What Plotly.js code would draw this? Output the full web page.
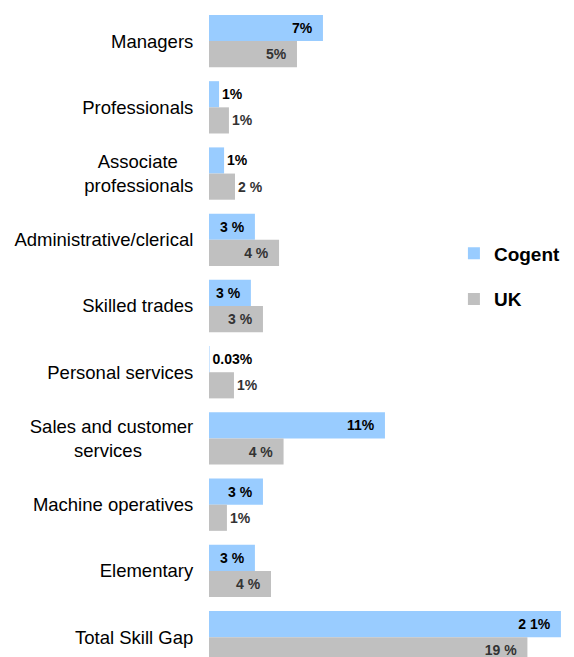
<!DOCTYPE html>
<html>
<head>
<meta charset="utf-8">
<script src="https://cdn.plot.ly/plotly-3.0.1.min.js"></script>
<style>html,body{margin:0;padding:0;background:#fff;}#chart{width:574px;height:657px;}</style>
</head>
<body>
<div id="chart"></div>
<script>
var categories = ["Managers","Professionals","Associate professionals","Administrative/clerical","Skilled trades","Personal services","Sales and customer services","Machine operatives","Elementary","Total Skill Gap"];
var tickLabels = ["Managers","Professionals","Associate\u00A0\u00A0\u00A0<br>professionals","Administrative/clerical","Skilled trades","Personal services","Sales and customer<br>services\u00A0\u00A0\u00A0\u00A0\u00A0\u00A0\u00A0\u00A0\u00A0\u00A0","Machine operatives","Elementary","Total Skill Gap"];
var cogentValues = [6.8, 0.6, 0.9, 2.74, 2.5, 0.03, 10.5, 3.22, 2.74, 21.0];
var ukValues = [5.25, 1.19, 1.55, 4.18, 3.22, 1.49, 4.45, 1.07, 3.7, 19.0];
var cogentLabels = ["7%","1%","1%","3 %","3 %","0.03%","11%","3 %","3 %","2 1%"];
var ukLabels = ["5%","1%","2 %","4 %","3 %","1%","4 %","1%","4 %","19 %"];
var cogentPos = ["inside","outside","outside","inside","inside","outside","inside","inside","inside","inside"];
var ukPos = ["inside","outside","outside","inside","inside","outside","inside","outside","inside","inside"];

var labelFont = "Arial, 'Liberation Sans', sans-serif";
var pad = "\u00A0\u00A0";
function padded(labels, pos){ return labels.map(function(l,i){ return pos[i]==="inside" ? l+pad : l; }); }

var traces = [
  {type:"bar", orientation:"h", name:"Cogent", y:categories, x:cogentValues,
   text:padded(cogentLabels,cogentPos), textposition:cogentPos, insidetextanchor:"end", textangle:0,
   constraintext:"none", cliponaxis:false,
   textfont:{family:labelFont,size:14,color:"#000",weight:"bold"},
   insidetextfont:{family:labelFont,size:14,color:"#000",weight:"bold"},
   outsidetextfont:{family:labelFont,size:14,color:"#000",weight:"bold"},
   marker:{color:"#99CCFF"}, hoverinfo:"skip", legendgroup:"a"},
  {type:"bar", orientation:"h", name:"UK", y:categories, x:ukValues,
   text:padded(ukLabels,ukPos), textposition:ukPos, insidetextanchor:"end", textangle:0,
   constraintext:"none", cliponaxis:false,
   textfont:{family:labelFont,size:14,color:"#333",weight:"bold"},
   insidetextfont:{family:labelFont,size:14,color:"#333",weight:"bold"},
   outsidetextfont:{family:labelFont,size:14,color:"#333",weight:"bold"},
   marker:{color:"#C0C0C0"}, hoverinfo:"skip", legendgroup:"b"}
];

var layout = {
  width:574, height:657,
  margin:{l:209, r:0, t:8, b:0, pad:0},
  paper_bgcolor:"#fff", plot_bgcolor:"#fff",
  barmode:"group", bargap:0.21, bargroupgap:0,
  showlegend:true,
  legend:{x:0.671, y:0.651, xanchor:"left", yanchor:"top", traceorder:"grouped", tracegroupgap:18,
          font:{family:labelFont, size:19, color:"#000", weight:"bold"}, bgcolor:"rgba(0,0,0,0)"},
  xaxis:{range:[0,21.78], showgrid:false, zeroline:false, showline:false, showticklabels:false, ticks:"", fixedrange:true},
  yaxis:{type:"category", categoryorder:"array", categoryarray:categories, range:[9.30,-0.5],
         tickvals:categories, ticktext:tickLabels,
         showgrid:false, zeroline:false, showline:false, ticks:"outside", ticklen:11, tickcolor:"rgba(0,0,0,0)",
         tickfont:{family:labelFont, size:18.5, color:"#000"}, automargin:false, fixedrange:true}
};

Plotly.newPlot("chart", traces, layout, {displayModeBar:false, staticPlot:true});
</script>
</body>
</html>
